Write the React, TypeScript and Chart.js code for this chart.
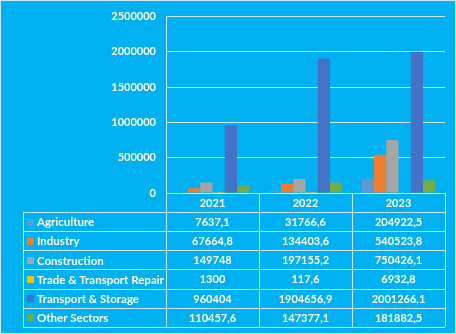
import React, { useEffect, useRef } from "react";
import { Chart, registerables } from "chart.js";

Chart.register(...registerables);

const years = ["2021", "2022", "2023"];
const seriesNames = [
  "Agriculture",
  "Industry",
  "Construction",
  "Trade & Transport Repair",
  "Transport & Storage",
  "Other Sectors",
];
const agriculture = [7637.1, 31766.6, 204922.5];
const industry = [67664.8, 134403.6, 540523.8];
const construction = [149748, 197155.2, 750426.1];
const trade = [1300, 117.6, 6932.8];
const transport = [960404, 1904656.9, 2001266.1];
const other = [110457.6, 147377.1, 181882.5];
const tableText = [
  ["7637,1", "31766,6", "204922,5"],
  ["67664,8", "134403,6", "540523,8"],
  ["149748", "197155,2", "750426,1"],
  ["1300", "117,6", "6932,8"],
  ["960404", "1904656,9", "2001266,1"],
  ["110457,6", "147377,1", "181882,5"],
];
const colors = ["#5B9BD5", "#ED7D31", "#A5A5A5", "#FFC000", "#4472C4", "#70AD47"];

const BG = "#00B0F0";
const LINE = "#CDEBF7";
const FONT = "bold 11px Lato";

const W = 456;
const H = 334;
const TABLE_LEFT = 23;
const ROW_H = 19.1;

const tablePlugin = {
  id: "tablePlugin",
  beforeDraw(chart: any) {
    const ctx = chart.ctx;
    ctx.save();
    ctx.fillStyle = BG;
    ctx.fillRect(0, 0, W, H);
    ctx.strokeStyle = LINE;
    ctx.lineWidth = 1;
    ctx.strokeRect(0.5, 0.5, W - 1, H - 1);
    ctx.restore();
  },
  afterDraw(chart: any) {
    const ctx = chart.ctx;
    const area = chart.chartArea;
    const x = chart.scales.x;
    const n = years.length;
    const colW = (area.right - area.left) / n;
    const top = area.bottom;
    const rows = seriesNames.length;
    const bottom = top + ROW_H * (rows + 1);
    ctx.save();
    ctx.strokeStyle = LINE;
    ctx.lineWidth = 1;
    ctx.beginPath();
    for (let r = 0; r <= rows + 1; r++) {
      const y = Math.round(top + r * ROW_H) + 0.5;
      const left = r === 0 ? area.left : TABLE_LEFT;
      ctx.moveTo(left, y);
      ctx.lineTo(area.right, y);
    }
    for (let c = 0; c <= n; c++) {
      const xx = Math.round(area.left + c * colW) + 0.5;
      ctx.moveTo(xx, top);
      ctx.lineTo(xx, bottom);
    }
    const ly = Math.round(top + ROW_H) + 0.5;
    ctx.moveTo(TABLE_LEFT + 0.5, ly);
    ctx.lineTo(TABLE_LEFT + 0.5, Math.round(bottom) + 0.5);
    ctx.stroke();

    ctx.font = FONT;
    ctx.fillStyle = "#FFFFFF";
    ctx.textBaseline = "middle";
    ctx.textAlign = "center";
    for (let c = 0; c < n; c++) {
      const cx = x.getPixelForTick(c);
      ctx.fillText(years[c], cx, top + ROW_H / 2 + 1);
      for (let r = 0; r < rows; r++) {
        ctx.fillText(tableText[r][c], cx, top + ROW_H * (r + 1) + ROW_H / 2 + 1);
      }
    }
    ctx.textAlign = "left";
    for (let r = 0; r < rows; r++) {
      const cy = top + ROW_H * (r + 1) + ROW_H / 2;
      ctx.fillStyle = colors[r];
      ctx.fillRect(TABLE_LEFT + 4, Math.round(cy - 3), 7, 7);
      ctx.fillStyle = "#FFFFFF";
      ctx.font = "bold 11.5px Lato";
      ctx.fillText(seriesNames[r], TABLE_LEFT + 14, cy + 1);
    }
    ctx.restore();
  },
};

export default function App() {
  const ref = useRef<HTMLCanvasElement | null>(null);
  useEffect(() => {
    document.body.style.margin = "0";
    const data = [agriculture, industry, construction, trade, transport, other];
    const chart = new Chart(ref.current as HTMLCanvasElement, {
      type: "bar",
      data: {
        labels: years,
        datasets: seriesNames.map((name, i) => ({
          label: name,
          data: data[i],
          backgroundColor: colors[i],
          borderWidth: 0,
          barPercentage: 1,
          categoryPercentage: 0.79,
        })),
      },
      options: {
        responsive: false,
        animation: false,
        layout: { padding: { top: 15, right: 11, bottom: 141, left: 0 } },
        plugins: {
          legend: { display: false },
          tooltip: { enabled: false },
        },
        scales: {
          x: {
            display: true,
            grid: { display: false, drawTicks: false },
            border: { display: false },
            ticks: { display: false },
          },
          y: {
            min: 0,
            max: 2500000,
            afterFit: (scale: any) => {
              scale.width = 166;
            },
            ticks: {
              stepSize: 500000,
              color: "#FFFFFF",
              font: { family: "Lato", size: 11, weight: "bold" },
              padding: 10,
              callback: (v: any) => String(v),
            },
            grid: { color: LINE, drawTicks: false, lineWidth: 1 },
            border: { display: true, color: LINE },
          },
        },
      },
      plugins: [tablePlugin],
    });
    return () => chart.destroy();
  }, []);
  return (
    <div style={{ width: W, height: H }}>
      <canvas ref={ref} width={W} height={H} style={{ display: "block" }} />
    </div>
  );
}
